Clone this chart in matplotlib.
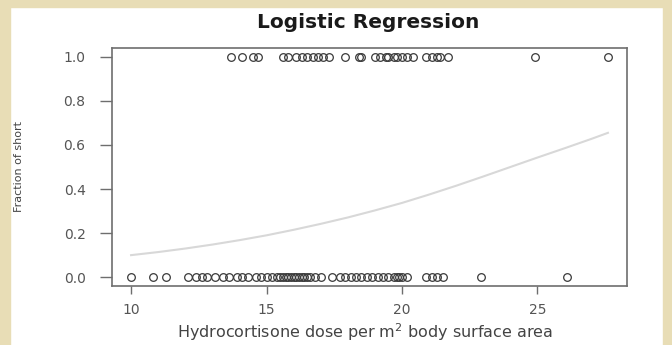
import matplotlib
matplotlib.use("Agg")
import matplotlib.pyplot as plt
from matplotlib.patches import Rectangle

# dose values of the children who ended up short (y = 1)
dose_short = [13.7, 14.1, 14.5, 14.7,
              15.6, 15.8, 16.1, 16.3, 16.5, 16.7, 16.9, 17.1, 17.3,
              17.9, 18.4, 18.5,
              19.0, 19.2, 19.4, 19.5, 19.7, 19.8, 20.0, 20.2, 20.4,
              20.9, 21.1, 21.3, 21.4, 21.7,
              24.9, 27.6]

# dose values of the rest (y = 0)
dose_normal = [10.0, 10.8, 11.3,
               12.1, 12.4, 12.6, 12.8,
               13.1, 13.4, 13.6, 13.9, 14.1, 14.3, 14.6, 14.8,
               15.0, 15.2, 15.4, 15.5, 15.6, 15.7, 15.8, 15.9, 16.0, 16.1,
               16.2, 16.3, 16.4, 16.5, 16.6, 16.8, 17.0,
               17.4, 17.7, 17.9, 18.1, 18.3, 18.5, 18.7, 18.9, 19.1, 19.3,
               19.5, 19.7, 19.8, 19.9, 20.0, 20.2,
               20.9, 21.1, 21.3, 21.5,
               22.9, 26.1]

# fitted curve
fit_x = [10, 11, 12, 13, 14, 15, 16, 17, 18, 19, 20, 21, 22, 23, 24, 25, 26, 27, 27.6]
fit_p = [0.100, 0.114, 0.130, 0.148, 0.168, 0.190, 0.215, 0.242, 0.271, 0.303,
         0.337, 0.375, 0.415, 0.457, 0.500, 0.543, 0.585, 0.628, 0.655]

x_ticks = [10, 15, 20, 25]
y_ticks = [0.0, 0.2, 0.4, 0.6, 0.8, 1.0]

fig = plt.figure(figsize=(6.72, 3.45), dpi=100)
fig.patch.set_facecolor("white")

beige = "#e8ddb6"
fig.patches.append(Rectangle((0, 0), 10 / 672, 1, transform=fig.transFigure, color=beige, zorder=-1))
fig.patches.append(Rectangle((0, 1 - 7 / 345), 1, 7 / 345, transform=fig.transFigure, color=beige, zorder=-1))
fig.patches.append(Rectangle((1 - 9 / 672, 0), 9 / 672, 1, transform=fig.transFigure, color=beige, zorder=-1))

ax = fig.add_axes([112 / 672, 1 - 286 / 345, (627 - 112) / 672, (286 - 48) / 345])

ax.plot(fit_x, fit_p, color="#d8d8d8", linewidth=1.5, zorder=1)
ax.plot(dose_short, [1.0] * len(dose_short), linestyle="none", marker="o",
        markersize=5.5, markerfacecolor="none", markeredgecolor="#3a3a3a",
        markeredgewidth=0.9, zorder=2)
ax.plot(dose_normal, [0.0] * len(dose_normal), linestyle="none", marker="o",
        markersize=5.5, markerfacecolor="none", markeredgecolor="#3a3a3a",
        markeredgewidth=0.9, zorder=2)

ax.set_xlim(9.296, 28.304)
ax.set_ylim(-0.04, 1.04)
ax.set_xticks(x_ticks)
ax.set_xticklabels([str(t) for t in x_ticks])
ax.set_yticks(y_ticks)
ax.set_yticklabels([f"{t:.1f}" for t in y_ticks])

for s in ax.spines.values():
    s.set_color("#6e6e6e")
    s.set_linewidth(1.2)

ax.tick_params(axis="x", length=6, width=1.0, color="#6e6e6e", pad=6,
               labelsize=10, labelcolor="#555555")
ax.tick_params(axis="y", length=9, width=1.0, color="#6e6e6e", pad=10,
               labelsize=10, labelcolor="#555555")

fig.text(368 / 672, 1 - 23 / 345, "Logistic Regression", ha="center", va="center",
         fontsize=14.5, fontweight="bold", color="#1a1a1a")
fig.text(365 / 672, 1 - 332 / 345, "Hydrocortisone dose per m$^2$ body surface area",
         ha="center", va="center", fontsize=11.5, color="#444444")
fig.text(19 / 672, 1 - 166 / 345, "Fraction of short", ha="center", va="center",
         rotation=90, fontsize=8, color="#444444")

fig.savefig("out.png", dpi=100)
